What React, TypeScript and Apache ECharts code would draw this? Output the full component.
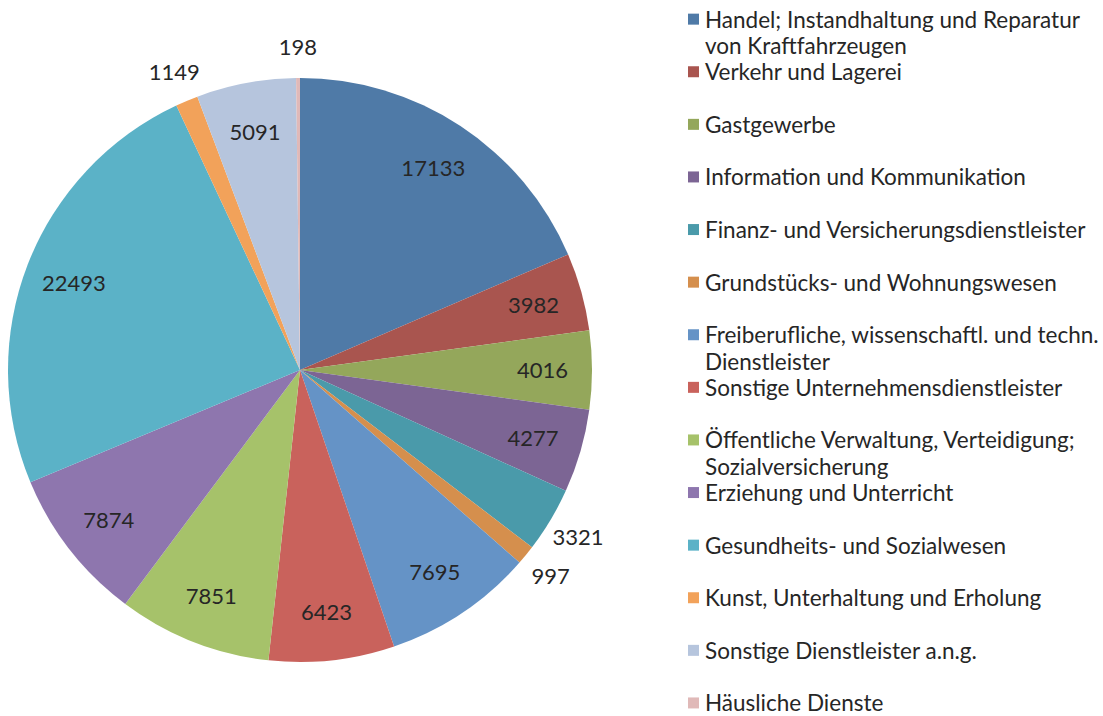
import React, { useEffect, useRef } from 'react';
import * as echarts from 'echarts';

const categories = [
  'Handel; Instandhaltung und Reparatur von Kraftfahrzeugen',
  'Verkehr und Lagerei',
  'Gastgewerbe',
  'Information und Kommunikation',
  'Finanz- und Versicherungsdienstleister',
  'Grundstücks- und Wohnungswesen',
  'Freiberufliche, wissenschaftl. und techn. Dienstleister',
  'Sonstige Unternehmensdienstleister',
  'Öffentliche Verwaltung, Verteidigung; Sozialversicherung',
  'Erziehung und Unterricht',
  'Gesundheits- und Sozialwesen',
  'Kunst, Unterhaltung und Erholung',
  'Sonstige Dienstleister a.n.g.',
  'Häusliche Dienste',
];

const legendLines = [
  ['Handel; Instandhaltung und Reparatur', 'von Kraftfahrzeugen'],
  ['Verkehr und Lagerei', ''],
  ['Gastgewerbe', ''],
  ['Information und Kommunikation', ''],
  ['Finanz- und Versicherungsdienstleister', ''],
  ['Grundstücks- und Wohnungswesen', ''],
  ['Freiberufliche, wissenschaftl. und techn.', 'Dienstleister'],
  ['Sonstige Unternehmensdienstleister', ''],
  ['Öffentliche Verwaltung, Verteidigung;', 'Sozialversicherung'],
  ['Erziehung und Unterricht', ''],
  ['Gesundheits- und Sozialwesen', ''],
  ['Kunst, Unterhaltung und Erholung', ''],
  ['Sonstige Dienstleister a.n.g.', ''],
  ['Häusliche Dienste', ''],
];

const values = [17133, 3982, 4016, 4277, 3321, 997, 7695, 6423, 7851, 7874, 22493, 1149, 5091, 198];

const colors = [
  '#4F7AA7', '#A9554F', '#94A75B', '#7C6594', '#4A9AAA', '#D58F4D', '#6593C6',
  '#C9625C', '#A6C26A', '#8E76AE', '#5BB2C7', '#F2A25A', '#B6C5DD', '#E0B9B8',
];

const labelOutside = [false, false, false, false, true, true, false, false, false, false, false, true, false, true];

export default function App() {
  const ref = useRef<HTMLDivElement>(null);
  useEffect(() => {
    const chart = echarts.init(ref.current!, null, { renderer: 'svg' });
    const FONT = 'Lato';
    const TEXT = '#262626';
    const LH = 26.3;
    const rich: any = {
      t: { fontFamily: FONT, fontSize: 22.5, color: TEXT, lineHeight: LH },
      g: { width: 6, height: 11 },
      sp: { width: 17, height: 11 },
    };
    colors.forEach((c, i) => {
      rich['sq' + i] = { width: 11, height: 11, backgroundColor: c };
    });
    const center = [300, 370];
    const transparent = 'rgba(0,0,0,0)';
    const labelBase = { fontFamily: FONT, fontSize: 22, color: TEXT, formatter: '{c}' };
    const option: any = {
      animation: false,
      legend: {
        orient: 'vertical',
        left: 683,
        top: 6,
        height: 900,
        padding: 0,
        itemGap: 0,
        itemWidth: 0,
        itemHeight: 0,
        icon: 'none',
        selectedMode: false,
        data: categories,
        textStyle: { fontFamily: FONT, fontSize: 22.5, color: TEXT, lineHeight: LH, rich },
        formatter: (name: string) => {
          const i = categories.indexOf(name);
          const [l1, l2] = legendLines[i];
          return `{sq${i}|}{g|}{t|${l1}}\n{sp|}{t|${l2 || ' '}}`;
        },
      },
      series: [
        {
          type: 'pie',
          center,
          radius: 292,
          startAngle: 90,
          clockwise: true,
          silent: true,
          label: { show: false },
          labelLine: { show: false },
          itemStyle: { borderWidth: 0 },
          data: categories.map((name, i) => ({
            name,
            value: values[i],
            itemStyle: { color: colors[i] },
          })),
        },
        {
          type: 'pie',
          center,
          radius: [187, 292],
          startAngle: 90,
          clockwise: true,
          silent: true,
          labelLine: { show: false },
          itemStyle: { color: transparent, borderWidth: 0 },
          label: { ...labelBase, position: 'inside' },
          data: categories.map((name, i) => ({
            name,
            value: values[i],
            label: { show: !labelOutside[i] },
          })),
        },
        {
          type: 'pie',
          center,
          radius: [292, 350],
          startAngle: 90,
          clockwise: true,
          silent: true,
          labelLine: { show: false },
          itemStyle: { color: transparent, borderWidth: 0 },
          label: { ...labelBase, position: 'inside' },
          data: categories.map((name, i) => ({
            name,
            value: values[i],
            label: { show: labelOutside[i] },
          })),
        },
      ],
    };
    chart.setOption(option);
    return () => chart.dispose();
  }, []);
  return (
    <div
      ref={ref}
      style={{ position: 'absolute', left: 0, top: 0, width: 1103, height: 716, background: '#fff' }}
    />
  );
}
